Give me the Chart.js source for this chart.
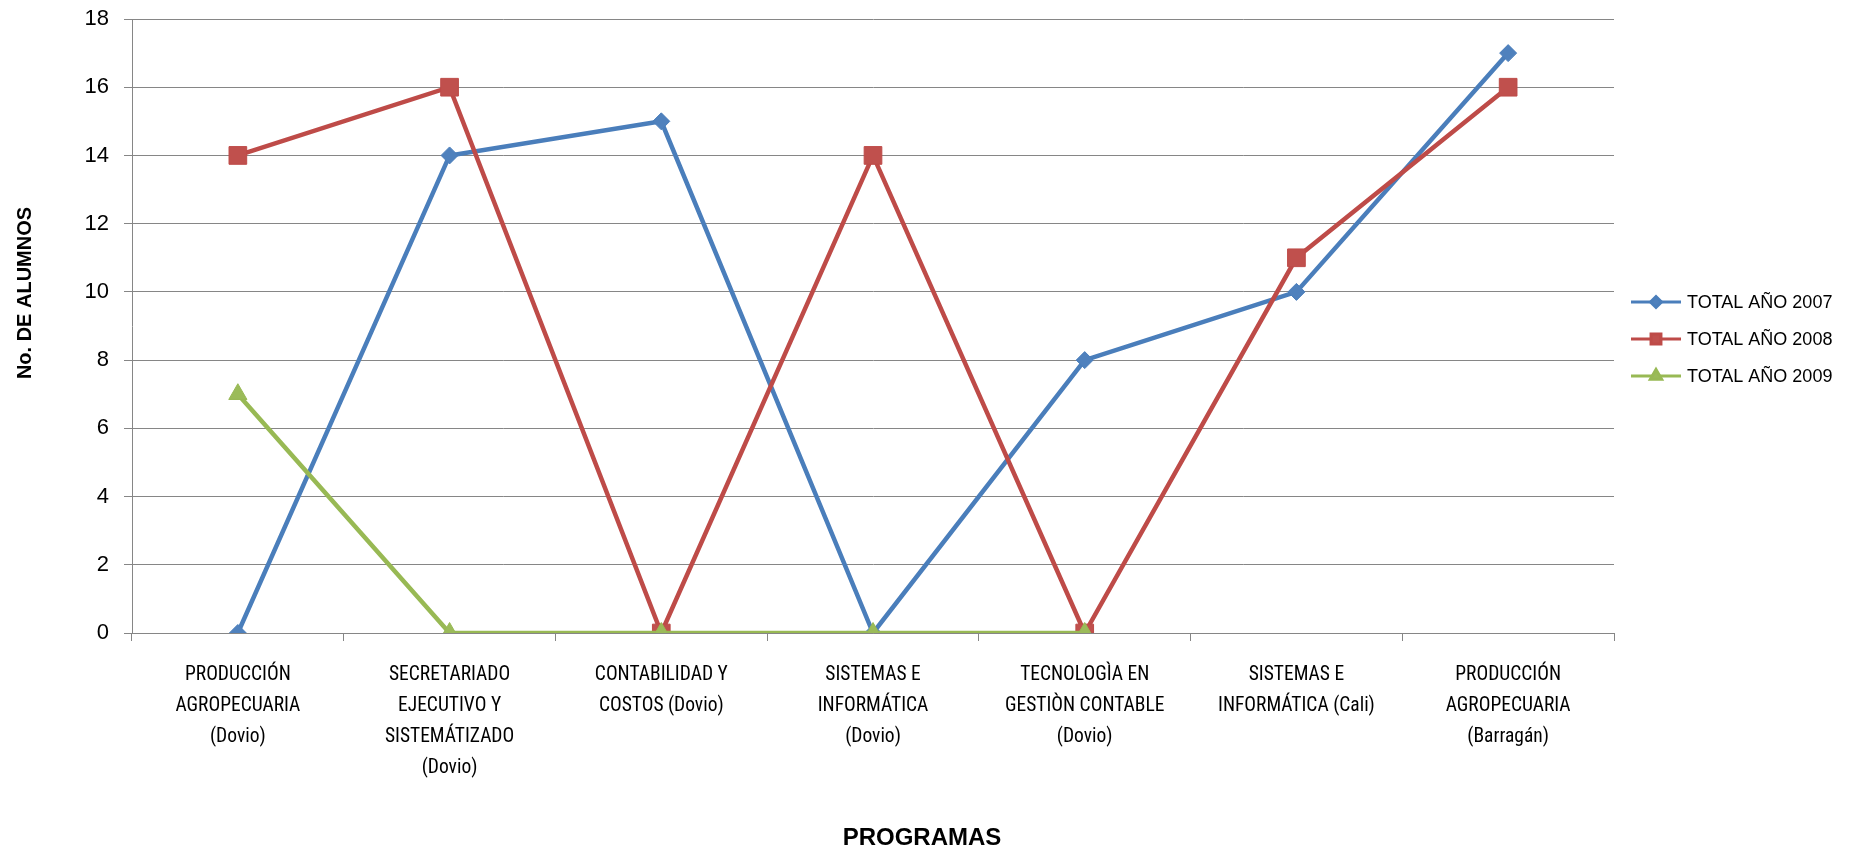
<!DOCTYPE html>
<html><head><meta charset="utf-8">
<script src="https://cdn.jsdelivr.net/npm/chart.js@4"></script>
<style>html,body{margin:0;padding:0;background:#fff;overflow:hidden}#wrap{width:1854px;height:852px;position:relative}</style>
</head><body><div id="wrap"><canvas id="c" width="1854" height="852"></canvas></div>
<script>
const categories = [
  ["PRODUCCIÓN", "AGROPECUARIA", "(Dovio)"],
  ["SECRETARIADO", "EJECUTIVO Y", "SISTEMÁTIZADO", "(Dovio)"],
  ["CONTABILIDAD Y", "COSTOS (Dovio)"],
  ["SISTEMAS E", "INFORMÁTICA", "(Dovio)"],
  ["TECNOLOGÌA EN", "GESTIÒN CONTABLE", "(Dovio)"],
  ["SISTEMAS E", "INFORMÁTICA (Cali)"],
  ["PRODUCCIÓN", "AGROPECUARIA", "(Barragán)"]
];
const total2007 = [0, 14, 15, 0, 8, 10, 17];
const total2008 = [14, 16, 0, 14, 0, 11, 16];
const total2009 = [7, 0, 0, 0, 0, null, null];
const seriesNames = ["TOTAL AÑO 2007", "TOTAL AÑO 2008", "TOTAL AÑO 2009"];
const yMin = 0, yMax = 18, yStep = 2;
const yTitle = "No. DE ALUMNOS";
const xTitle = "PROGRAMAS";

const narrowFont = '"Roboto Condensed", "DejaVu Sans Condensed", sans-serif';
const gridColor = '#868686';

const legendMarkerR = [5.5, 7, 6.5];

const annotPlugin = {
  id: 'annot',
  afterDraw(chart) {
    const ctx = chart.ctx;
    ctx.save();
    ctx.fillStyle = '#000';
    ctx.font = 'bold 20px "Liberation Sans", Arial, sans-serif';
    ctx.textAlign = 'center';
    ctx.textBaseline = 'middle';
    ctx.translate(25, 293);
    ctx.rotate(-Math.PI / 2);
    ctx.fillText(yTitle, 0, 0);
    ctx.restore();
    ctx.save();
    ctx.fillStyle = '#000';
    ctx.font = 'bold 24px "Liberation Sans", Arial, sans-serif';
    ctx.textAlign = 'center';
    ctx.textBaseline = 'middle';
    ctx.fillText(xTitle, 922, 838);
    ctx.restore();
    chart.data.datasets.forEach((ds, i) => {
      const y = 302 + i * 37;
      ctx.save();
      ctx.strokeStyle = ds.borderColor;
      ctx.lineWidth = 3;
      ctx.beginPath();
      ctx.moveTo(1631, y);
      ctx.lineTo(1681, y);
      ctx.stroke();
      ctx.fillStyle = ds.pointBackgroundColor;
      ctx.strokeStyle = ds.pointBorderColor;
      Chart.helpers.drawPoint(ctx, {pointStyle: ds.pointStyle, radius: legendMarkerR[i], borderWidth: 1, rotation: 0}, 1656, y);
      ctx.fillStyle = '#000';
      ctx.font = '18px "Liberation Sans", Arial, sans-serif';
      ctx.textAlign = 'left';
      ctx.textBaseline = 'middle';
      ctx.fillText(ds.label, 1687, y + 1);
      ctx.restore();
    });
  }
};

new Chart(document.getElementById('c'), {
  type: 'line',
  data: {
    labels: categories,
    datasets: [
      {label: seriesNames[0], data: total2007, borderColor: '#4A7EBB', backgroundColor: '#4F81BD',
       pointBackgroundColor: '#4F81BD', pointBorderColor: '#4A7EBB', pointStyle: 'rectRot', pointRadius: 8.5, pointHoverRadius: 8.5,
       pointBorderWidth: 1, borderWidth: 4.5, tension: 0, order: 2},
      {label: seriesNames[1], data: total2008, borderColor: '#BE4B48', backgroundColor: '#C0504D',
       pointBackgroundColor: '#C0504D', pointBorderColor: '#BE4B48', pointStyle: 'rect', pointRadius: 12.5, pointHoverRadius: 12.5,
       pointBorderWidth: 1, borderWidth: 4.5, tension: 0, order: 1},
      {label: seriesNames[2], data: total2009, borderColor: '#98B954', backgroundColor: '#9BBB59',
       pointBackgroundColor: '#9BBB59', pointBorderColor: '#98B954', pointStyle: 'triangle', pointRadius: 10.5, pointHoverRadius: 10.5,
       pointBorderWidth: 1, borderWidth: 4.5, tension: 0, order: 0}
    ]
  },
  options: {
    responsive: false,
    animation: false,
    events: [],
    layout: {padding: {left: 0, right: 240, top: 19, bottom: 0}},
    plugins: {legend: {display: false}, tooltip: {enabled: false}, title: {display: false}},
    scales: {
      x: {
        type: 'category',
        offset: true,
        grid: {display: true, offset: true, drawOnChartArea: false, drawTicks: true, tickLength: 8, color: gridColor, lineWidth: 1},
        border: {display: true, color: gridColor, width: 1},
        ticks: {autoSkip: false, maxRotation: 0, minRotation: 0, padding: 19, color: '#000',
                font: {family: narrowFont, size: 19.5, lineHeight: '31px'}},
        afterFit(scale) { scale.height = 852 - 633; scale.paddingLeft = 0; scale.paddingRight = 0; }
      },
      y: {
        min: yMin, max: yMax,
        grid: {color: gridColor, lineWidth: 1, tickLength: 8, drawTicks: true},
        border: {display: true, color: gridColor, width: 1},
        ticks: {stepSize: yStep, padding: 15, color: '#000', font: {family: '"Liberation Sans", Arial, sans-serif', size: 22}},
        afterFit(scale) { scale.width = 132; scale.paddingTop = 0; scale.paddingBottom = 0; }
      }
    }
  },
  plugins: [annotPlugin]
});
</script>
</body></html>
